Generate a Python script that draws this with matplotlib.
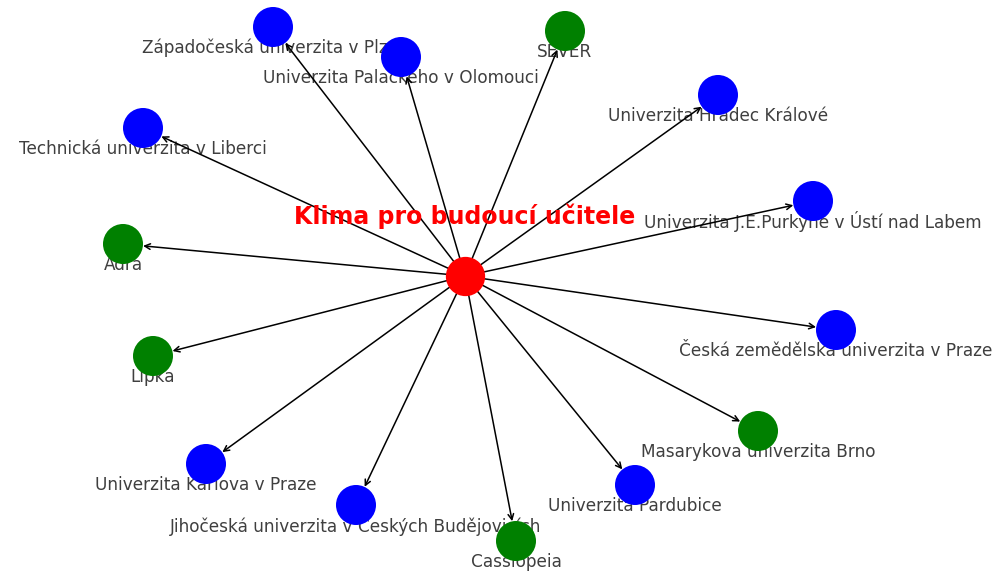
import matplotlib
matplotlib.use("Agg")
import matplotlib.pyplot as plt

# node positions (pixel-like coords, y down)
center_name = "Klima pro budoucí učitele"
center_pos = (465, 276)

names = [
    "Západočeská univerzita v Plzni",
    "Univerzita Palackého v Olomouci",
    "SEVER",
    "Univerzita Hradec Králové",
    "Univerzita J.E.Purkyně v Ústí nad Labem",
    "Česká zemědělská univerzita v Praze",
    "Masarykova univerzita Brno",
    "Univerzita Pardubice",
    "Cassiopeia",
    "Jihočeská univerzita v Českých Budějovicích",
    "Univerzita Karlova v Praze",
    "Lipka",
    "Adra",
    "Technická univerzita v Liberci",
]
xs = [273, 401, 565, 718, 813, 836, 758, 635, 516, 356, 206, 153, 123, 143]
ys = [27, 57, 31, 95, 201, 330, 431, 485, 541, 505, 464, 356, 244, 128]
kinds = ["uni", "uni", "ngo", "uni", "uni", "uni", "ngo", "uni", "ngo",
         "uni", "uni", "ngo", "ngo", "uni"]

colors = {"uni": "blue", "ngo": "green"}

fig = plt.figure(figsize=(9.99, 5.73), dpi=100)
ax = fig.add_axes([0, 0, 1, 1])
ax.set_xlim(0, 999)
ax.set_ylim(573, 0)
ax.axis("off")

# edges
for x, y in zip(xs, ys):
    ax.annotate("", xy=(x, y), xytext=center_pos,
                arrowprops=dict(arrowstyle="->", color="black", lw=1.1,
                                shrinkA=0, shrinkB=14.5, mutation_scale=10),
                zorder=1)

# nodes
ax.scatter(xs, ys, s=830, c=[colors[k] for k in kinds], zorder=2, linewidths=0)
ax.scatter([center_pos[0]], [center_pos[1]], s=800, c="red", zorder=3, linewidths=0)

# labels
for n, x, y in zip(names, xs, ys):
    ax.text(x, y + 21, n, ha="center", va="center", fontsize=12.2,
            color="#3f3f3f", zorder=0.5)

ax.text(center_pos[0], center_pos[1] - 60, center_name, ha="center", va="center",
        fontsize=17, fontweight="bold", color="red", zorder=4)

fig.savefig("out.png", dpi=100)
